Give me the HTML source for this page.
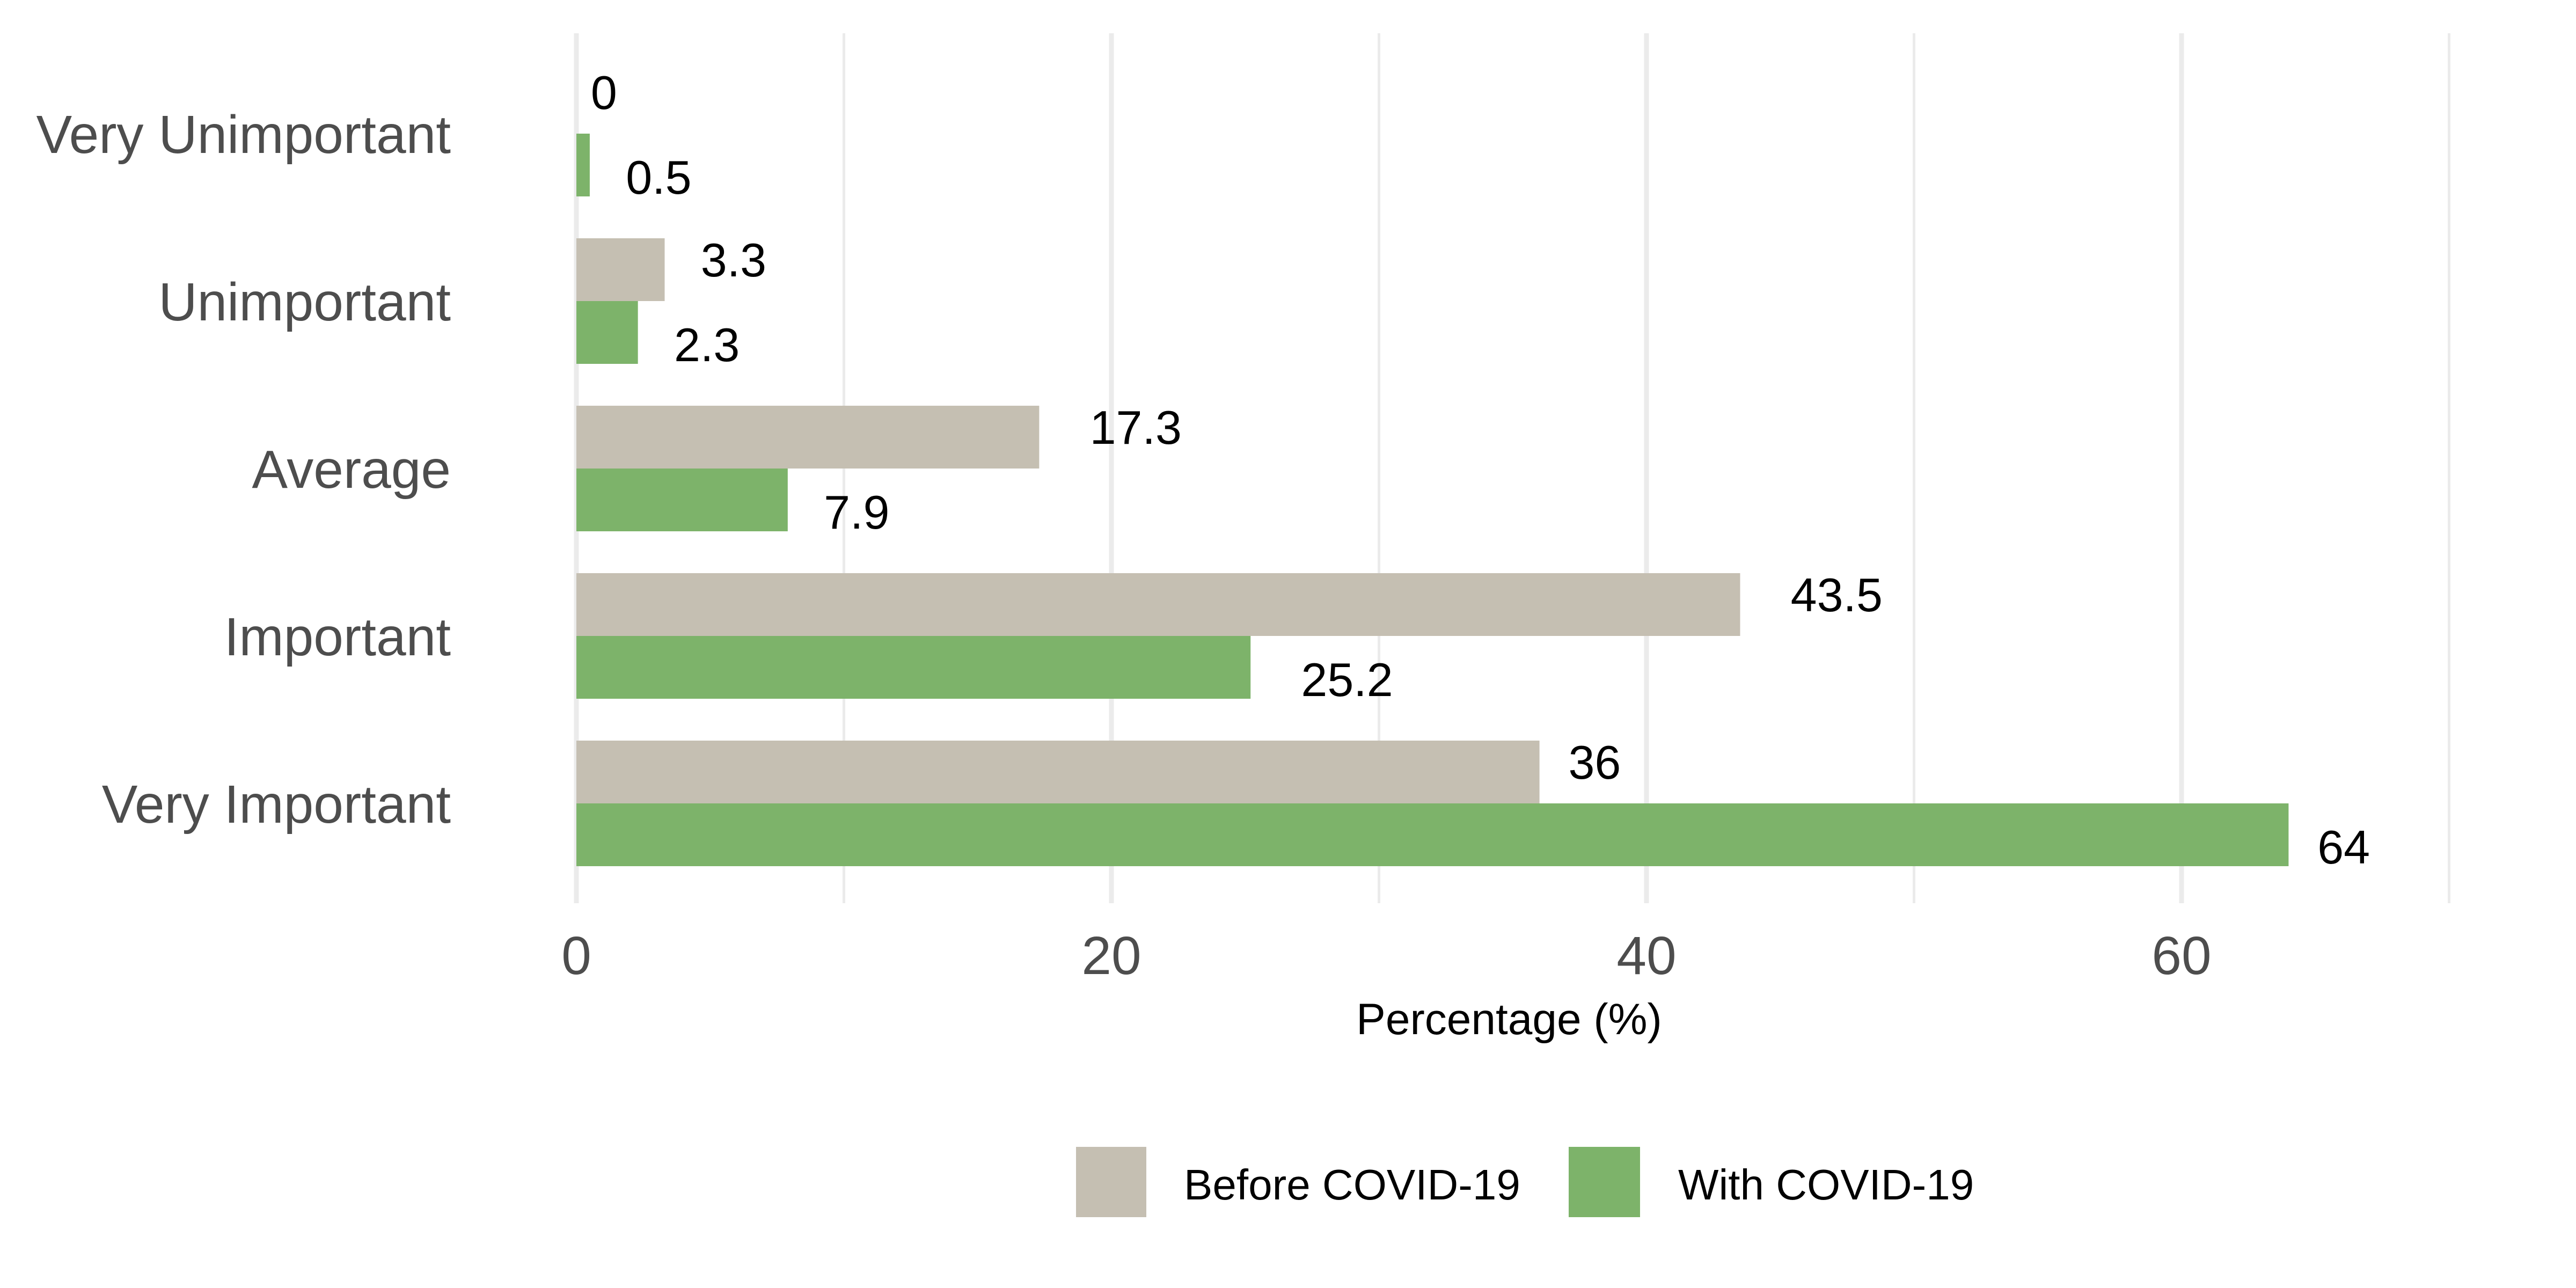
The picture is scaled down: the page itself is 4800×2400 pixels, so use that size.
<!DOCTYPE html>
<html><head><meta charset="utf-8"><style>
html,body{margin:0;padding:0;background:#fff;}
svg{display:block;font-family:"Liberation Sans",Arial,sans-serif;}
</style></head><body>
<svg id="chart" width="4800" height="2400" viewBox="0 0 4800 2400" xmlns="http://www.w3.org/2000/svg">
<rect width="4800" height="2400" fill="#fff"/>
<g id="grid"></g>
<g id="bars"></g>
<g id="labels"></g>
<g id="yaxis"></g>
<g id="xaxis"></g>
<text x="2812" y="1927" font-size="82" text-anchor="middle" fill="#000">Percentage (%)</text>
<g>
  <rect x="2005" y="2137" width="131" height="131" fill="#c5bfb2"/>
  <text x="2206" y="2235" font-size="80" fill="#000">Before COVID-19</text>
  <rect x="2923" y="2137" width="133" height="131" fill="#7db36a"/>
  <text x="3127" y="2235" font-size="80" fill="#000">With COVID-19</text>
</g>
</svg>
<script>
const categories = ["Very Unimportant","Unimportant","Average","Important","Very Important"];
const beforeValues = [0, 3.3, 17.3, 43.5, 36];
const withValues = [0.5, 2.3, 7.9, 25.2, 64];
const majorTicks = [0, 20, 40, 60];
const minorTicks = [10, 30, 50, 70];

const NS = "http://www.w3.org/2000/svg";
const X0 = 1074, PX = 49.85, TOP = 62, BOTTOM = 1683, CAT0 = 249, STEP = 312, BH = 117;
const xs = v => X0 + v * PX;
const ys = i => CAT0 + i * STEP;
function mk(tag, attrs, parent) {
  const e = document.createElementNS(NS, tag);
  for (const k in attrs) e.setAttribute(k, attrs[k]);
  parent.appendChild(e);
  return e;
}
const grid = document.getElementById('grid');
minorTicks.forEach(t => {
  const l = mk('line', {x1: xs(t), x2: xs(t), y1: TOP, y2: BOTTOM, stroke: '#ebebeb', 'stroke-width': 5}, grid);
  
  
});
const xaxis = document.getElementById('xaxis');
majorTicks.forEach(t => {
  const l = mk('line', {x1: xs(t), x2: xs(t), y1: TOP, y2: BOTTOM, stroke: '#ebebeb', 'stroke-width': 9}, grid);
  
  
  const tx = mk('text', {x: xs(t), y: 1815, 'font-size': 100, 'text-anchor': 'middle', fill: '#4d4d4d'}, xaxis);
  tx.textContent = t;
  
  
});
const bars = document.getElementById('bars');
const labels = document.getElementById('labels');
const yaxis = document.getElementById('yaxis');
categories.forEach((c, i) => {
  const cy = ys(i);
  const yl = mk('text', {x: 840, y: cy + 36, 'font-size': 100, 'text-anchor': 'end', fill: '#4d4d4d'}, yaxis);
  yl.textContent = c;
  
  
  const b = mk('rect', {x: xs(0), y: cy - BH, width: xs(beforeValues[i]) - xs(0), height: BH, fill: '#c5bfb2'}, bars);
  
  
  const g = mk('rect', {x: xs(0), y: cy, width: xs(withValues[i]) - xs(0), height: BH, fill: '#7db36a'}, bars);
  
  
  [[beforeValues[i], cy - 46, 'value-label-before'], [withValues[i], cy + 112, 'value-label-with']].forEach(([v, y, n]) => {
    const t = mk('text', {x: xs(v), y: y, 'font-size': 88, fill: '#000'}, labels);
    t.textContent = String(v);
    
    
    const w = t.getComputedTextLength();
    t.setAttribute('x', xs(v) + 0.55 * w);
  });
});
</script>
</body></html>
